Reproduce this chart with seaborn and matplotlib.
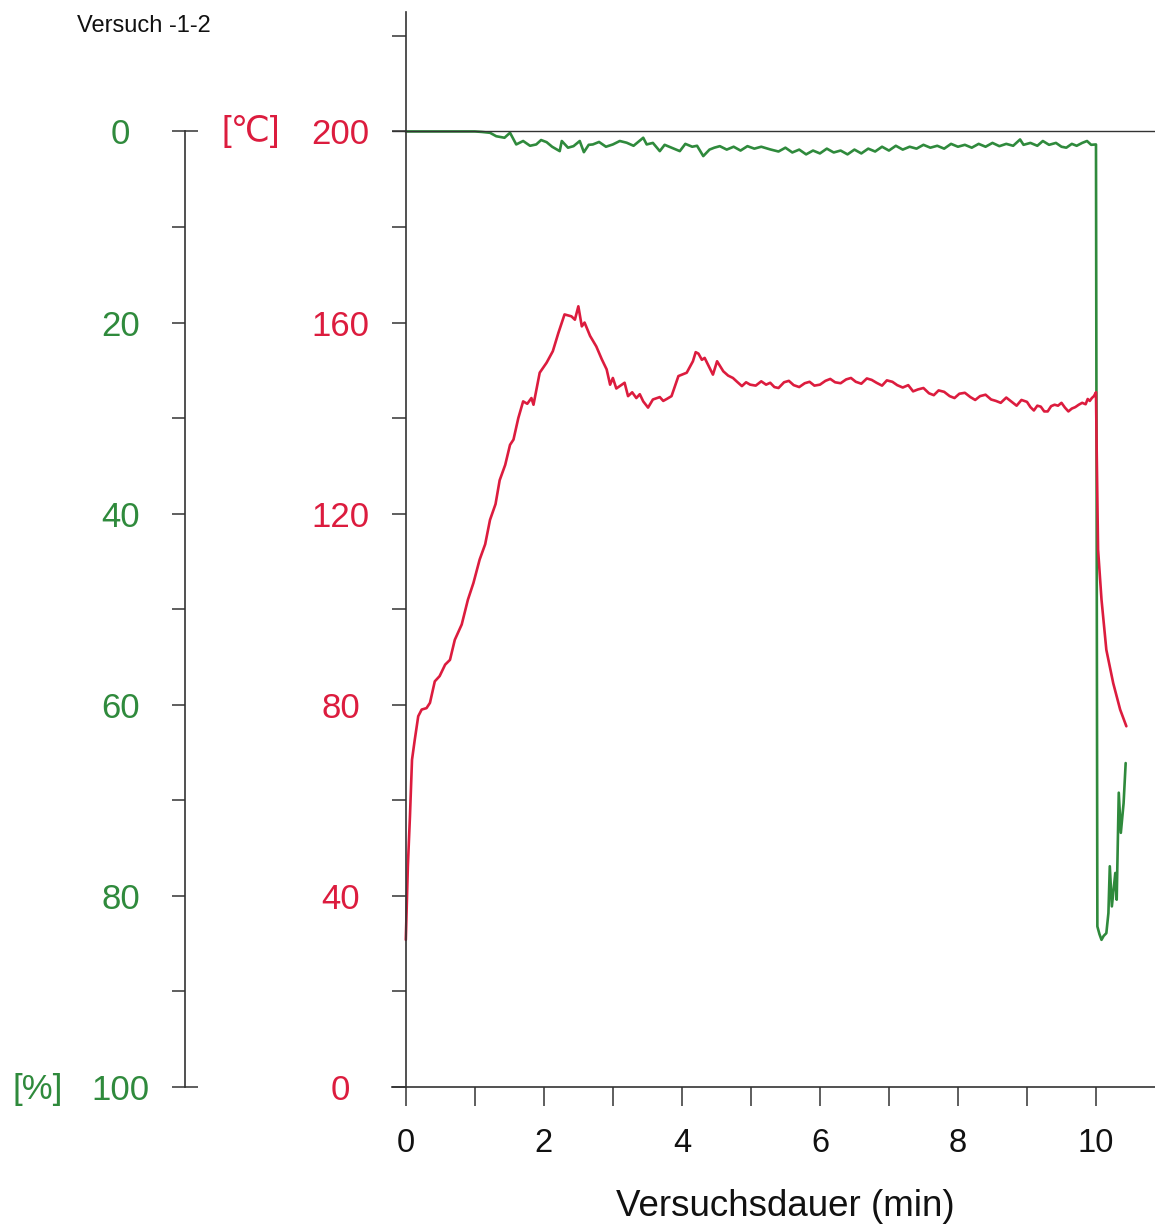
import matplotlib
matplotlib.use("Agg")
import matplotlib.pyplot as plt
import seaborn as sns
import pandas as pd

# red trace: temperature in degC over test time (min)
red_time = [
    0.00, 0.03, 0.06, 0.09, 0.13, 0.18, 0.23, 0.30, 0.35, 0.42,
    0.49, 0.57, 0.64, 0.71, 0.81, 0.90, 0.98, 1.07, 1.15, 1.22,
    1.30, 1.36, 1.44, 1.51, 1.56, 1.63, 1.70, 1.76, 1.82, 1.85,
    1.94, 2.04, 2.13, 2.21, 2.30, 2.40, 2.45, 2.50, 2.55, 2.59,
    2.67, 2.76, 2.84, 2.91, 2.96, 3.00, 3.05, 3.10, 3.17, 3.22,
    3.28, 3.34, 3.39, 3.44, 3.51, 3.58, 3.68, 3.73, 3.78, 3.85,
    3.95, 4.07, 4.16, 4.20, 4.24, 4.29, 4.33, 4.45, 4.51, 4.60,
    4.67, 4.74, 4.80, 4.87, 4.93, 4.99, 5.07, 5.15, 5.22, 5.28,
    5.34, 5.40, 5.48, 5.55, 5.62, 5.70, 5.78, 5.85, 5.92, 6.00,
    6.08, 6.15, 6.22, 6.30, 6.38, 6.45, 6.52, 6.60, 6.68, 6.75,
    6.82, 6.90, 6.97, 7.05, 7.12, 7.20, 7.28, 7.35, 7.42, 7.50,
    7.58, 7.65, 7.72, 7.80, 7.88, 7.95, 8.02, 8.10, 8.18, 8.25,
    8.32, 8.40, 8.48, 8.55, 8.62, 8.70, 8.78, 8.85, 8.92, 9.00,
    9.05, 9.10, 9.15, 9.20, 9.25, 9.30, 9.35, 9.40, 9.45, 9.50,
    9.55, 9.60, 9.65, 9.70, 9.75, 9.80, 9.85, 9.88, 9.91, 9.94,
    9.97, 10.00, 10.01, 10.03, 10.08, 10.15, 10.25, 10.35, 10.44,
]
red_temp = [
    30.8, 46.3, 56.6, 68.5, 72.7, 77.6, 79.0, 79.3, 80.4, 84.9,
    86.0, 88.4, 89.4, 93.6, 96.8, 102.0, 105.5, 110.4, 113.6, 118.7,
    122.0, 127.0, 130.2, 134.4, 135.5, 140.0, 143.5, 143.0, 144.2, 142.8,
    149.5, 151.6, 154.0, 157.8, 161.7, 161.3, 160.6, 163.4, 159.2, 160.0,
    157.2, 155.0, 152.3, 150.2, 147.0, 148.4, 146.2, 146.7, 147.4, 144.6,
    145.4, 144.2, 145.0, 143.5, 142.2, 143.9, 144.4, 143.6, 144.0, 144.6,
    148.8, 149.5, 151.9, 153.8, 153.5, 152.2, 152.6, 149.1, 151.9, 149.8,
    148.9, 148.4, 147.6, 146.7, 147.5, 147.0, 146.8, 147.7, 147.0, 147.4,
    146.5, 146.3, 147.5, 147.8, 146.9, 146.5, 147.3, 147.6, 146.8, 147.0,
    147.8, 148.2, 147.5, 147.3, 148.1, 148.4, 147.6, 147.2, 148.3, 148.0,
    147.4, 146.8, 147.9, 147.6, 146.9, 146.4, 146.9, 145.6, 146.0, 146.3,
    145.2, 144.8, 145.8, 145.5, 144.6, 144.2, 145.1, 145.3, 144.4, 143.8,
    144.6, 144.9, 143.9, 143.6, 143.2, 144.3, 143.4, 142.6, 143.8, 143.4,
    142.3, 141.6, 142.6, 142.4, 141.4, 141.4, 142.5, 142.8, 142.6, 143.2,
    142.2, 141.4, 142.0, 142.3, 142.8, 143.2, 142.9, 144.0, 143.6, 144.2,
    144.6, 145.4, 133.4, 112.5, 102.0, 91.5, 84.5, 79.0, 75.5,
]

# green trace: percent (inverted outer axis) over test time (min)
green_time = [
    0.00, 0.50, 1.00, 1.10, 1.22, 1.31, 1.43, 1.51, 1.60, 1.70,
    1.80, 1.89, 1.96, 2.04, 2.12, 2.23, 2.26, 2.35, 2.43, 2.52,
    2.58, 2.65, 2.71, 2.80, 2.90, 3.00, 3.10, 3.20, 3.30, 3.44,
    3.49, 3.58, 3.68, 3.75, 3.85, 3.97, 4.05, 4.15, 4.22, 4.31,
    4.40, 4.47, 4.55, 4.65, 4.75, 4.85, 4.95, 5.05, 5.15, 5.28,
    5.40, 5.50, 5.60, 5.70, 5.80, 5.90, 6.00, 6.10, 6.20, 6.30,
    6.40, 6.50, 6.60, 6.70, 6.80, 6.90, 7.00, 7.10, 7.20, 7.30,
    7.40, 7.50, 7.60, 7.70, 7.80, 7.90, 8.00, 8.10, 8.20, 8.30,
    8.40, 8.50, 8.60, 8.70, 8.80, 8.90, 8.95, 9.05, 9.15, 9.23,
    9.32, 9.42, 9.50, 9.57, 9.65, 9.72, 9.80, 9.87, 9.93, 10.00,
    10.02, 10.05, 10.08, 10.11, 10.15, 10.18, 10.20, 10.23, 10.28, 10.30,
    10.33, 10.36, 10.40, 10.43,
]
green_pct = [
    0.0, 0.0, 0.0, 0.05, 0.14, 0.50, 0.66, 0.14, 1.36, 1.00,
    1.50, 1.36, 0.90, 1.12, 1.60, 2.06, 1.00, 1.70, 1.54, 1.00,
    2.17, 1.40, 1.36, 1.10, 1.60, 1.36, 1.00, 1.18, 1.50, 0.66,
    1.36, 1.20, 2.06, 1.40, 1.70, 2.06, 1.30, 1.60, 1.50, 2.58,
    1.90, 1.70, 1.54, 1.90, 1.60, 2.00, 1.54, 1.80, 1.60, 1.88,
    2.10, 1.70, 2.20, 1.90, 2.40, 2.00, 2.30, 1.80, 2.20, 2.00,
    2.40, 1.90, 2.30, 1.80, 2.10, 1.60, 2.00, 1.50, 1.90, 1.60,
    1.80, 1.40, 1.70, 1.50, 1.80, 1.30, 1.60, 1.40, 1.70, 1.30,
    1.60, 1.20, 1.54, 1.30, 1.50, 0.84, 1.40, 1.20, 1.50, 1.00,
    1.40, 1.20, 1.60, 1.70, 1.30, 1.50, 1.20, 1.00, 1.40, 1.36,
    83.2, 84.0, 84.6, 84.2, 83.9, 81.8, 76.9, 81.1, 77.6, 80.4,
    69.2, 73.4, 70.3, 66.1,
]

temp_ticks = [0, 20, 40, 60, 80, 100, 120, 140, 160, 180, 200, 220]
temp_labels = ["0", "", "40", "", "80", "", "120", "", "160", "", "200", ""]
pct_ticks = [0, 10, 20, 30, 40, 50, 60, 70, 80, 90, 100]
pct_labels = ["0", "", "20", "", "40", "", "60", "", "80", "", "100"]
time_ticks = [0, 2, 4, 6, 8, 10]
time_minor = [1, 3, 5, 7, 9]

RED = "#dc1c3e"
GREEN = "#2f8a3c"
INK = "#333333"

sns.set_style("white")
plt.rcParams["font.family"] = ["Liberation Sans", "DejaVu Sans"]

red_df = pd.DataFrame({"t": red_time, "temp": red_temp})
green_df = pd.DataFrame({"t": green_time, "pct": green_pct})

fig = plt.figure(figsize=(11.55, 12.25), dpi=100)
ax = fig.add_axes([392 / 1155, 1 - 1087 / 1225, 763 / 1155, 1075 / 1225])
ax2 = ax.twinx()

# red on top of green, as in the print
ax.set_zorder(ax2.get_zorder() + 1)
ax.patch.set_visible(False)

sns.lineplot(data=red_df, x="t", y="temp", ax=ax, color=RED, lw=1.9,
             sort=False, estimator=None)
sns.lineplot(data=green_df, x="t", y="pct", ax=ax2, color=GREEN, lw=1.9,
             sort=False, estimator=None)

ax.set_xlim(-0.2, 10.855)
ax.set_ylim(0, 225)
ax2.set_ylim(100, -12.5)
ax.axhline(200, color=INK, lw=1.0, zorder=0)

# inner temperature axis
for s in ["top", "right"]:
    ax.spines[s].set_visible(False)
ax.spines["left"].set_position(("data", 0))
ax.spines["left"].set_color(INK)
ax.spines["bottom"].set_color(INK)
ax.spines["left"].set_linewidth(1.2)
ax.spines["bottom"].set_linewidth(1.2)
ax.set_yticks(temp_ticks)
ax.set_yticklabels(temp_labels)
ax.set_xticks(time_ticks)
ax.set_xticklabels([str(v) for v in time_ticks])
ax.set_xticks(time_minor, minor=True)
ax.tick_params(axis="y", direction="out", length=10, width=1.1, color=INK,
               pad=37, labelsize=25, labelcolor=RED, left=True)
ax.tick_params(axis="x", which="both", direction="out", length=13.5,
               width=1.1, color=INK, bottom=True)
ax.tick_params(axis="x", which="major", pad=16, labelsize=23.5,
               labelcolor="#111111")
plt.setp(ax.get_yticklabels(), ha="center")
ax.set_xlabel("Versuchsdauer (min)", fontsize=26.5, color="#111111")
ax.xaxis.set_label_coords((785 - 392) / 763, -0.095)
ax.set_ylabel("")

# outer percent axis
for s in ["top", "right", "bottom"]:
    ax2.spines[s].set_visible(False)
ax2.spines["left"].set_visible(True)
ax2.spines["left"].set_position(("axes", (185 - 392) / 763))
ax2.spines["left"].set_bounds(0, 100)
ax2.spines["left"].set_color(INK)
ax2.spines["left"].set_linewidth(1.2)
ax2.yaxis.set_ticks_position("left")
ax2.yaxis.set_label_position("left")
ax2.set_yticks(pct_ticks)
ax2.set_yticklabels(pct_labels)
ax2.yaxis.remove_overlapping_locs = False
ax2.set_yticks([0, 100], minor=True)
ax2.tick_params(axis="y", which="major", direction="out", length=9.5,
                width=1.1, color=INK, pad=37, labelsize=25,
                labelcolor=GREEN, left=True, right=False)
ax2.tick_params(axis="y", which="minor", direction="in", length=9.5,
                width=1.1, color=INK, left=True, right=False)
plt.setp(ax2.get_yticklabels(), ha="center")
ax2.set_ylabel("")
ax2.grid(False)
ax.grid(False)

fig.text(251 / 1155, 1 - 132 / 1225, "[℃]", color=RED, fontsize=25,
         ha="center", va="center")
fig.text(38 / 1155, 1 - 1090 / 1225, "[%]", color=GREEN, fontsize=25,
         ha="center", va="center")
fig.text(77 / 1155, 1 - 26 / 1225, "Versuch -1-2", color="#111111",
         fontsize=17, ha="left", va="center")

fig.savefig("out.png", dpi=100, facecolor="white")
